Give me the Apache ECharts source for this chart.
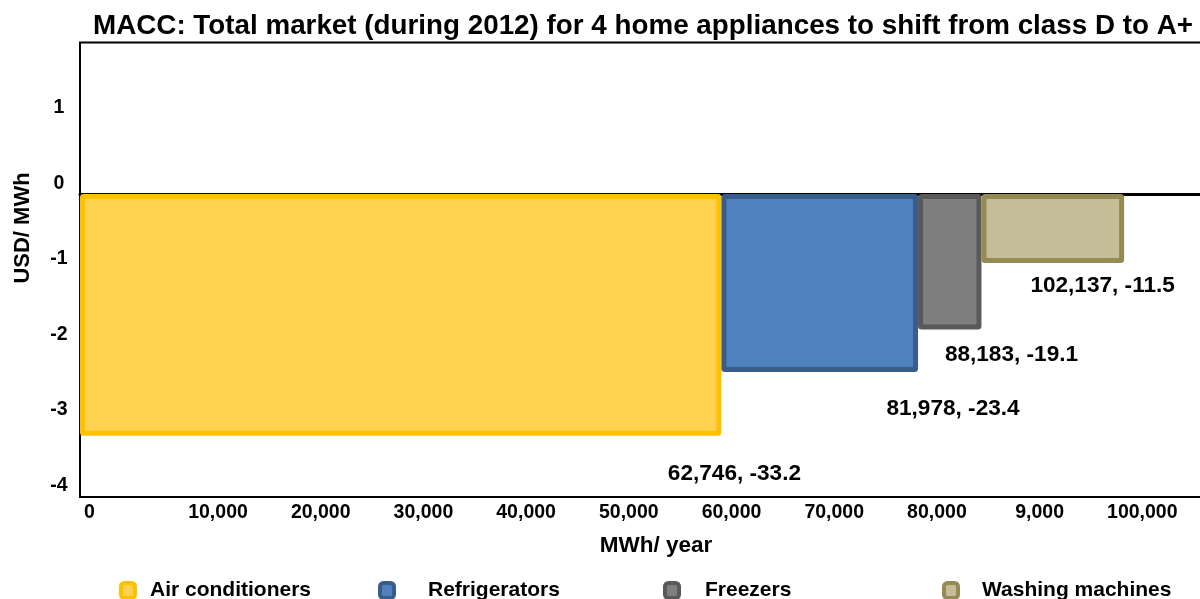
<!DOCTYPE html>
<html>
<head>
<meta charset="utf-8">
<script src="https://cdn.jsdelivr.net/npm/echarts@6/dist/echarts.min.js"></script>
<style>html,body{margin:0;padding:0;background:#fff;}#chart{width:1200px;height:599px;}</style>
</head>
<body>
<div id="chart"></div>
<script>
// ---- data ----
const chartTitle = 'MACC: Total market (during 2012) for 4 home appliances to shift from class D to A+';
const categories = ['Air conditioners', 'Refrigerators', 'Freezers', 'Washing machines'];
const cumulativeMWh = [62746, 81978, 88183, 102137];          // right edge of each block (MWh/year)
const costLabels = [-33.2, -23.4, -19.1, -11.5];             // cost printed in the data labels
const drawnDepth = [-3.19, -2.35, -1.79, -0.91];             // block depth as drawn against the USD/MWh axis
const xTickLabels = ['0', '10,000', '20,000', '30,000', '40,000', '50,000', '60,000', '70,000', '80,000', '9,000', '100,000'];
const yTickLabels = ['-4', '-3', '-2', '-1', '0', '1'];
const xAxisTitle = 'MWh/ year';
const yAxisTitle = 'USD/ MWh';

// ---- styles ----
const FONT = "'Liberation Sans', Arial, sans-serif";
const fills = ['#FFD350', '#4F81BD', '#7F7F7F', '#C4BD97'];
const borders = ['#FFC000', '#385D8A', '#595959', '#948A54'];
const LABEL_OFFSETS = [[13, 38.5], [35, 36.5], [30, 25.5], [-21.5, 23]];
const LEGEND_X = [119, 378, 663, 942];
const LEGEND_PAD = [10, 29, 21, 19];
const BORDER_W = 5;

function fmt(n) { return n.toLocaleString('en-US'); }

const series = categories.map((name, i) => ({
  type: 'custom',
  name: name,
  xAxisIndex: 0,
  yAxisIndex: 0,
  clip: false,
  itemStyle: { color: fills[i], borderColor: borders[i], borderWidth: 4 },
  encode: { x: [0, 1], y: 2 },
  data: [[i === 0 ? 0 : cumulativeMWh[i - 1], cumulativeMWh[i], drawnDepth[i], i]],
  renderItem: function (params, api) {
    const k = api.value(3);
    const p0 = api.coord([api.value(0), 0]);
    const p1 = api.coord([api.value(1), api.value(2)]);
    const x0 = Math.min(p0[0], p1[0]), x1 = Math.max(p0[0], p1[0]);
    const y0 = Math.min(p0[1], p1[1]), y1 = Math.max(p0[1], p1[1]);
    const h = BORDER_W / 2;
    return {
      type: 'group',
      children: [
        {
          type: 'rect',
          shape: { x: x0 + h, y: y0 + h, width: x1 - x0 - BORDER_W, height: y1 - y0 - BORDER_W, r: 1 },
          style: { fill: fills[k], stroke: borders[k], lineWidth: BORDER_W }
        },
        {
          type: 'text',
          style: {
            text: fmt(cumulativeMWh[k]) + ', ' + costLabels[k],
            x: x1 + LABEL_OFFSETS[k][0],
            y: y1 + LABEL_OFFSETS[k][1],
            align: 'center',
            verticalAlign: 'middle',
            font: 'bold 22.6px ' + FONT,
            fill: '#000'
          }
        }
      ]
    };
  }
}));

const legends = categories.map((name, i) => ({
  left: LEGEND_X[i],
  top: 580,
  padding: 0,
  orient: 'horizontal',
  icon: 'roundRect',
  itemWidth: 14,
  itemHeight: 15,
  selectedMode: false,
  data: [{ name: name, itemStyle: { color: fills[i], borderColor: borders[i], borderWidth: 4 } }],
  textStyle: { fontFamily: FONT, fontSize: 21, fontWeight: 'bold', color: '#000', padding: [0, 0, 0, LEGEND_PAD[i]] }
}));

const option = {
  animation: false,
  backgroundColor: '#fff',
  title: {
    text: chartTitle,
    left: 93,
    top: 12,
    padding: 0,
    textStyle: { fontFamily: FONT, fontSize: 27.8, fontWeight: 'bold', color: '#000' }
  },
  legend: legends,
  grid: [
    { left: 80, top: 42.5, width: 1124.5, height: 454.5, outerBoundsMode: 'none', containLabel: false, show: true, borderColor: '#000', borderWidth: 2, backgroundColor: 'transparent' },
    { left: 115.3, top: 32.5, width: 1027, height: 452.8, outerBoundsMode: 'none', containLabel: false, show: false }
  ],
  xAxis: [
    {
      gridIndex: 0, type: 'value', min: 0, max: 110000,
      axisLine: { show: true, onZero: true, lineStyle: { color: '#000', width: 3 } },
      axisTick: { show: false }, axisLabel: { show: false }, splitLine: { show: false }
    },
    {
      gridIndex: 1, type: 'value', min: 0, max: 100000, interval: 10000, position: 'bottom',
      axisLine: { show: false }, axisTick: { show: false }, splitLine: { show: false },
      axisLabel: {
        show: true, margin: 17.5, showMinLabel: true, showMaxLabel: true,
        fontFamily: FONT, fontSize: 19.5, fontWeight: 'bold', color: '#000',
        formatter: function (v) {
          const i = Math.round(v / 10000);
          if (i === 0) return '{z|' + xTickLabels[0] + '}';
          return xTickLabels[i] || '';
        },
        rich: { z: { fontFamily: FONT, fontSize: 19.5, fontWeight: 'bold', color: '#000', padding: [0, 52, 0, 0] } }
      }
    }
  ],
  yAxis: [
    {
      gridIndex: 0, type: 'value', min: -4, max: 2, interval: 1,
      axisLine: { show: false }, axisTick: { show: false }, axisLabel: { show: false }, splitLine: { show: false }
    },
    {
      gridIndex: 1, type: 'value', min: -4, max: 2, interval: 1,
      axisLine: { show: false }, axisTick: { show: false }, splitLine: { show: false },
      axisLabel: {
        show: true, margin: 56.3, align: 'center',
        fontFamily: FONT, fontSize: 19.5, fontWeight: 'bold', color: '#000',
        formatter: function (v) { return yTickLabels[Math.round(v) + 4] || ''; }
      }
    }
  ],
  graphic: [
    {
      type: 'text', x: 656, y: 546,
      style: { text: xAxisTitle, align: 'center', verticalAlign: 'middle', font: 'bold 22.5px ' + FONT, fill: '#000' }
    },
    {
      type: 'text', x: 23, y: 228, rotation: Math.PI / 2,
      style: { text: yAxisTitle, align: 'center', verticalAlign: 'middle', font: 'bold 22px ' + FONT, fill: '#000' }
    }
  ],
  series: series
};

const chart = echarts.init(document.getElementById('chart'), null, { renderer: 'canvas' });
chart.setOption(option);
</script>
</body>
</html>
